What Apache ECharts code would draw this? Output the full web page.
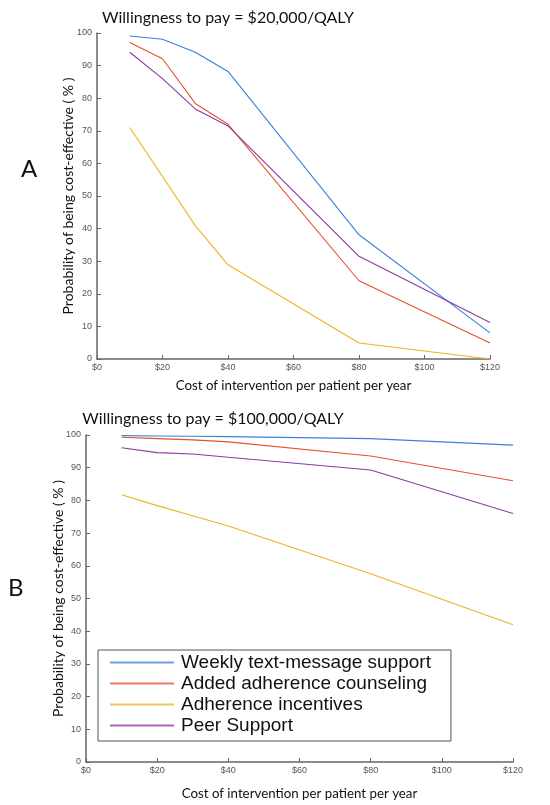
<!DOCTYPE html>
<html>
<head>
<meta charset="utf-8">
<script src="https://cdn.jsdelivr.net/npm/echarts@6/dist/echarts.min.js"></script>
<style>
  html, body { margin: 0; padding: 0; background: #fff; }
  #chart { width: 550px; height: 805px; }
</style>
</head>
<body>
<div id="chart"></div>
<script>
// Cost of intervention per patient per year (US$)
const costs = [10, 20, 30, 40, 80, 120];

const seriesNames = [
  'Weekly text-message support',
  'Added adherence counseling',
  'Adherence incentives',
  'Peer Support'
];

// Probability of being cost-effective (%) at $20,000/QALY
const textA       = [99.1, 98.1, 94.1, 88.2, 38.1, 8.0];
const counselA    = [97.1, 92.1, 78.4, 72.0, 24.0, 4.9];
const incentiveA  = [71.0, 56.0, 40.9, 28.9, 4.9, 0.0];
const peerA       = [94.1, 86.0, 76.7, 71.5, 31.5, 11.2];

// Probability of being cost-effective (%) at $100,000/QALY
const textB       = [99.8, 99.7, 99.6, 99.5, 98.9, 96.9];
const counselB    = [99.3, 98.9, 98.5, 97.9, 93.6, 86.0];
const incentiveB  = [81.7, 78.4, 75.3, 72.2, 57.6, 42.0];
const peerB       = [96.1, 94.6, 94.2, 93.2, 89.3, 76.0];

const yTicks = [0, 10, 20, 30, 40, 50, 60, 70, 80, 90, 100];
const xTicks = [0, 20, 40, 60, 80, 100, 120];

const colors = ['#3d7fdc', '#e5512f', '#efb323', '#8b3b9f'];

const chart = echarts.init(document.getElementById('chart'), null, { renderer: 'canvas' });

const tickFont = 'Liberation Sans, Arial, sans-serif';
const textFont = 'Lato, Open Sans, sans-serif';

function xAxisFor(gridIndex, gap) {
  return {
    gridIndex,
    type: 'value',
    min: xTicks[0],
    max: xTicks[xTicks.length - 1],
    interval: 20,
    name: 'Cost of intervention per patient per year',
    nameLocation: 'middle',
    nameGap: gap,
    nameMoveOverlap: false,
    nameTextStyle: { fontFamily: textFont, fontSize: 13.3, color: '#111' },
    axisLine: { show: true, lineStyle: { color: '#666', width: 1.5 } },
    axisTick: { show: true, inside: true, length: 4, lineStyle: { color: '#666' } },
    axisLabel: {
      fontFamily: tickFont, fontSize: 9, color: '#555', margin: 4,
      formatter: v => '$' + v
    },
    splitLine: { show: false }
  };
}

function yAxisFor(gridIndex, gap) {
  return {
    gridIndex,
    type: 'value',
    min: yTicks[0],
    max: yTicks[yTicks.length - 1],
    interval: 10,
    name: 'Probability of being cost-effective ( % )',
    nameLocation: 'middle',
    nameGap: gap,
    nameRotate: 90,
    nameMoveOverlap: false,
    nameTextStyle: { fontFamily: textFont, fontSize: 14, color: '#111' },
    axisLine: { show: true, lineStyle: { color: '#666', width: 1.5 } },
    axisTick: { show: true, inside: true, length: 4, lineStyle: { color: '#666' } },
    axisLabel: { fontFamily: tickFont, fontSize: 9, color: '#555', margin: 5 },
    splitLine: { show: false }
  };
}

function lineSeries(name, values, idx, axisIndex) {
  return {
    name,
    type: 'line',
    xAxisIndex: axisIndex,
    yAxisIndex: axisIndex,
    data: costs.map((c, i) => [c, values[i]]),
    symbol: 'none',
    lineStyle: { width: 1.1, color: colors[idx] },
    itemStyle: { color: colors[idx] },
    animation: false
  };
}

const option = {
  backgroundColor: '#fff',
  animation: false,
  title: [
    {
      text: 'Willingness to pay = $20,000/QALY',
      left: 223, top: 5, textAlign: 'center',
      textStyle: { fontFamily: textFont, fontSize: 16, fontWeight: 'normal', color: '#111' }
    },
    {
      text: 'Willingness to pay = $100,000/QALY',
      left: 208, top: 406, textAlign: 'center',
      textStyle: { fontFamily: textFont, fontSize: 16, fontWeight: 'normal', color: '#111' }
    }
  ],
  graphic: [
    { type: 'text', left: 21, top: 157, style: { text: 'A', fontFamily: textFont, fontSize: 24, fill: '#111' } },
    { type: 'text', left: 8, top: 576, style: { text: 'B', fontFamily: textFont, fontSize: 24, fill: '#111' } }
  ],
  legend: {
    show: true,
    data: seriesNames,
    orient: 'vertical',
    left: 98,
    top: 650,
    width: 353,
    backgroundColor: '#fff',
    borderColor: '#555',
    borderWidth: 1,
    padding: [2, 20, 5, 12],
    icon: 'rect',
    itemWidth: 64,
    itemHeight: 2,
    itemGap: 0,
    itemStyle: { opacity: 0.75 },
    textStyle: { fontFamily: tickFont, fontSize: 19, lineHeight: 21, color: '#111', padding: [0, 0, 0, 2] },
    selectedMode: false
  },
  grid: [
    { left: 97, top: 33, width: 393, height: 326 },
    { left: 86, top: 435, width: 427, height: 327 }
  ],
  xAxis: [xAxisFor(0, 20), xAxisFor(1, 25)],
  yAxis: [yAxisFor(0, 22), yAxisFor(1, 21)],
  series: [
    lineSeries(seriesNames[0], textA, 0, 0),
    lineSeries(seriesNames[1], counselA, 1, 0),
    lineSeries(seriesNames[2], incentiveA, 2, 0),
    lineSeries(seriesNames[3], peerA, 3, 0),
    lineSeries(seriesNames[0], textB, 0, 1),
    lineSeries(seriesNames[1], counselB, 1, 1),
    lineSeries(seriesNames[2], incentiveB, 2, 1),
    lineSeries(seriesNames[3], peerB, 3, 1)
  ]
};

chart.setOption(option);
</script>
</body>
</html>
